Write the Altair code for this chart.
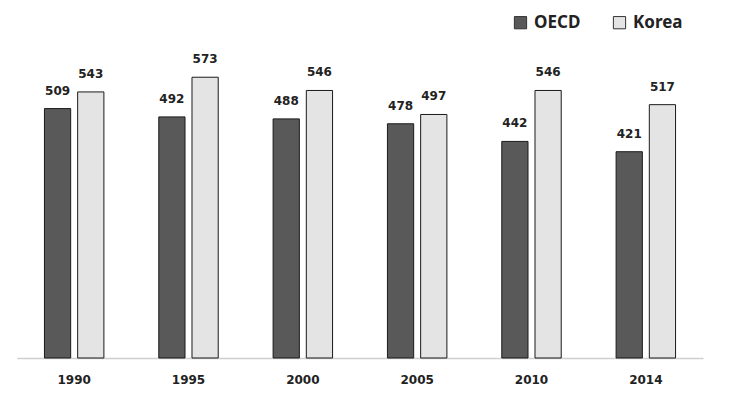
import altair as alt
import pandas as pd

years = ["1990", "1995", "2000", "2005", "2010", "2014"]
oecd = [509, 492, 488, 478, 442, 421]
korea = [543, 573, 546, 497, 546, 517]
series = ["OECD", "Korea"]

rows = []
for y, o, k in zip(years, oecd, korea):
    rows.append({"year": y, "series": "OECD", "value": o})
    rows.append({"year": y, "series": "Korea", "value": k})
df = pd.DataFrame(rows)

x = alt.X("year:N", sort=years, title=None,
          scale=alt.Scale(paddingInner=0.48, paddingOuter=0.24),
          axis=alt.Axis(labelAngle=0, labelFont="DejaVu Sans", labelFontWeight="bold",
                        labelFontSize=12, labelColor="#222222", labelPadding=16,
                        ticks=False, domainColor="#cfcfcf", domainWidth=1.5))
xo = alt.XOffset("series:N", sort=series, scale=alt.Scale(paddingInner=0.21))
y = alt.Y("value:Q", scale=alt.Scale(domain=[0, 600]), axis=None)
color = alt.Color("series:N", sort=series,
                  scale=alt.Scale(domain=series, range=["#595959", "#e4e4e4"]),
                  legend=alt.Legend(title=None, orient="none", legendX=495, legendY=-50,
                                    direction="horizontal", symbolType="square",
                                    symbolSize=150, symbolStrokeColor="#333333",
                                    symbolStrokeWidth=1, labelFont="Noto Sans",
                                    labelFontWeight="bold", labelFontSize=17,
                                    labelColor="#222222", columnPadding=30, labelOffset=5))

base = alt.Chart(df).encode(x=x, xOffset=xo)
bars = base.mark_bar(stroke="#1a1a1a", strokeWidth=1).encode(y=y, color=color)
labels = base.mark_text(dy=-18, font="DejaVu Sans", fontWeight="bold", fontSize=12,
                        color="#222222").encode(y=y, text=alt.Text("value:Q"))

chart = (bars + labels).properties(
    width=686, height=294, autosize="none",
    padding={"left": 17, "top": 64, "right": 34, "bottom": 42},
).configure(view=alt.ViewConfig(stroke=None))
chart.save("out.html", embed_options={"renderer": "svg", "actions": False})
